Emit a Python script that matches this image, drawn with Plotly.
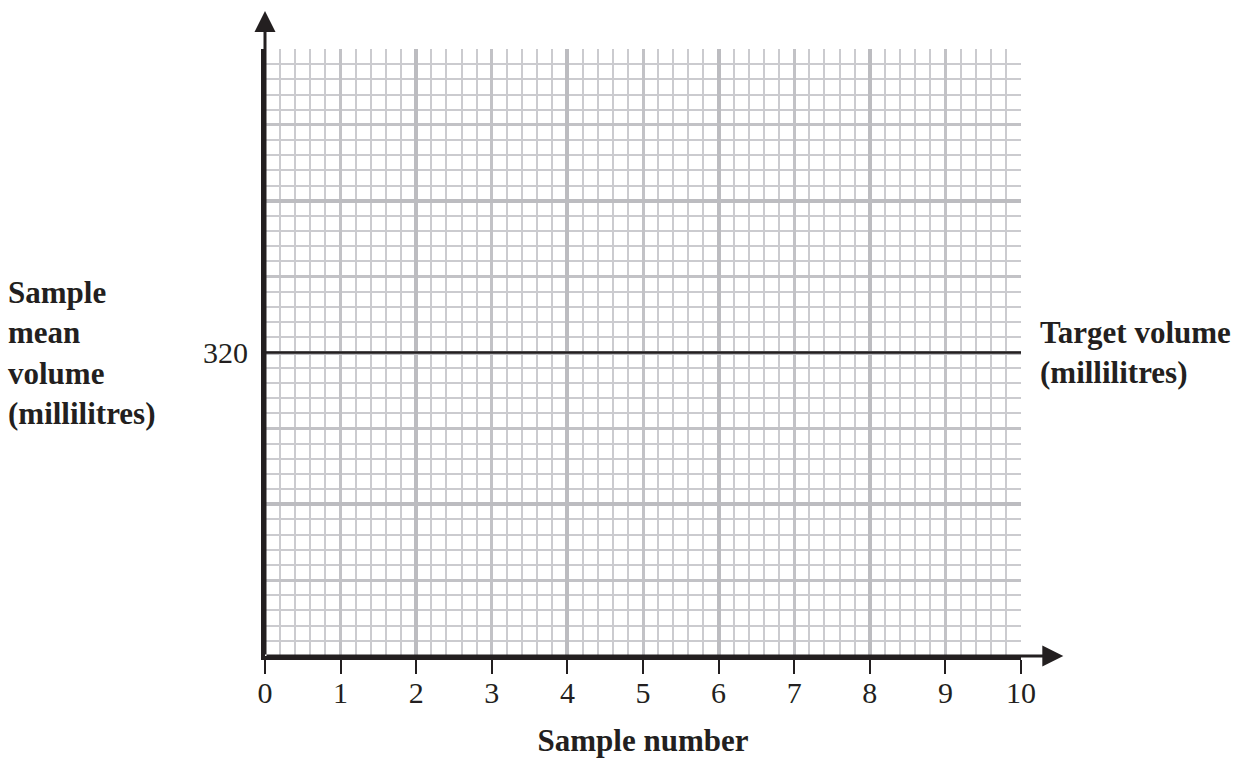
import plotly.graph_objects as go

# ---- data ----
sample_numbers = list(range(0, 11))           # x tick labels 0..10
x_range = [0, 10]
y_range = [316, 324]                          # arbitrary scale around the target
target_volume = 320
target_x = [0, 10]
target_y = [target_volume, target_volume]
y_label_vals = [316, 318, 320, 322, 324]
y_label_text = ["", "", "320", "", ""]

INK = "#231f20"
MINOR = "#cbcbcf"
MEDIUM = "#c2c2c6"
MAJOR = "#bcbcc0"
SERIF = "Liberation Serif, Times New Roman, serif"

fig = go.Figure()

fig.add_trace(go.Scatter(
    x=target_x, y=target_y, mode="lines",
    line=dict(color=INK, width=2.5),
    xaxis="x2", yaxis="y2", hoverinfo="skip", showlegend=False,
))

fig.update_layout(
    width=1242, height=758,
    margin=dict(l=265, r=221, t=49, b=102, autoexpand=False),
    paper_bgcolor="white", plot_bgcolor="white",
    showlegend=False,
    font=dict(family=SERIF, color=INK, size=30),
    xaxis=dict(
        range=x_range, tickmode="array", tickvals=sample_numbers,
        ticktext=[str(v) for v in sample_numbers],
        showgrid=True, gridcolor=MEDIUM, gridwidth=2.5,
        minor=dict(dtick=0.2, showgrid=True, gridcolor=MINOR, gridwidth=1.5, ticks=""),
        ticks="outside", ticklen=14, tickwidth=2, tickcolor=INK,
        showline=True, linecolor=INK, linewidth=4,
        zeroline=False, automargin=False,
        tickfont=dict(family=SERIF, size=30, color=INK),
        ticklabelstandoff=-7,
        title=dict(text="<b>Sample number</b>", font=dict(family=SERIF, size=31, color=INK), standoff=22),
    ),
    yaxis=dict(
        range=y_range, dtick=1, tick0=316,
        showgrid=True, gridcolor=MEDIUM, gridwidth=2.5,
        minor=dict(dtick=0.2, showgrid=True, gridcolor=MINOR, gridwidth=1.5, ticks=""),
        showticklabels=False, ticks="",
        showline=True, linecolor=INK, linewidth=4,
        zeroline=False, automargin=False,
    ),
    xaxis2=dict(
        range=x_range, overlaying="x", anchor="y2", side="bottom",
        dtick=2, tick0=0, showgrid=True, gridcolor=MAJOR, gridwidth=4,
        showticklabels=False, ticks="", showline=False, zeroline=False, automargin=False,
    ),
    yaxis2=dict(
        range=y_range, overlaying="y", anchor="x2", side="left",
        tickmode="array", tickvals=y_label_vals, ticktext=y_label_text,
        showgrid=True, gridcolor=MAJOR, gridwidth=4,
        ticks="", showline=False, zeroline=False, automargin=False,
        tickfont=dict(family=SERIF, size=30, color=INK),
        ticklabelstandoff=16,
    ),
)

# axis arrows
fig.add_annotation(x=10.56, y=y_range[0], ax=0, ay=y_range[0],
                   xref="x", yref="y", axref="x", ayref="y",
                   showarrow=True, arrowhead=2, arrowsize=1.4, arrowwidth=3,
                   arrowcolor=INK, text="")
fig.add_annotation(x=0, y=324.5, ax=0, ay=y_range[0],
                   xref="x", yref="y", axref="x", ayref="y",
                   showarrow=True, arrowhead=2, arrowsize=1.4, arrowwidth=3,
                   arrowcolor=INK, text="")

# side labels
fig.add_annotation(
    text="<b>Sample<br>mean<br>volume<br>(millilitres)</b>",
    xref="paper", yref="y", x=-0.3426, y=target_volume, xanchor="left", yanchor="middle",
    align="left", showarrow=False,
    font=dict(family=SERIF, size=31, color=INK),
)
fig.add_annotation(
    text="<b>Target volume<br>(millilitres)</b>",
    xref="paper", yref="y", x=1.0224, y=target_volume, xanchor="left", yanchor="middle",
    align="left", showarrow=False,
    font=dict(family=SERIF, size=31, color=INK),
)

fig.write_html("out.html", config={"displayModeBar": False},
               post_script="document.body.style.margin='0';")
